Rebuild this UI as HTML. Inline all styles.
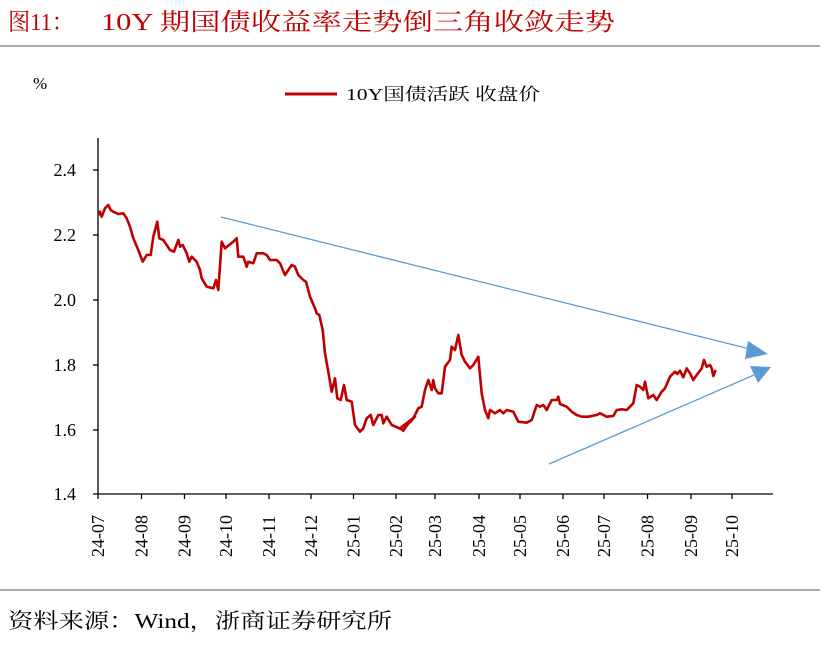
<!DOCTYPE html>
<html><head><meta charset="utf-8"><style>
body{margin:0;width:828px;height:644px;background:#fff;overflow:hidden;font-family:"Liberation Serif","Noto Serif CJK SC",serif}
</style></head><body>
<svg width="828" height="644" xmlns="http://www.w3.org/2000/svg" font-family="Liberation Serif, Noto Serif CJK SC, serif">
<text x="8" y="30" font-size="24" fill="#C00000" textLength="66" lengthAdjust="spacingAndGlyphs">图11：</text>
<text x="101" y="30" font-size="24" fill="#C00000" textLength="514" lengthAdjust="spacingAndGlyphs">10Y 期国债收益率走势倒三角收敛走势</text>
<line x1="0" y1="46" x2="820" y2="46" stroke="#555" stroke-width="1"/>
<text x="33" y="89" font-size="17" fill="#000">%</text>
<line x1="285" y1="94" x2="337" y2="94" stroke="#C00000" stroke-width="3"/>
<text x="346" y="100" font-size="17" fill="#000" textLength="194" lengthAdjust="spacingAndGlyphs">10Y国债活跃 收盘价</text>
<g stroke="#000" stroke-width="1.3" fill="none">
<line x1="98" y1="138" x2="98" y2="494"/>
<line x1="93" y1="494" x2="773" y2="494"/>
<line x1="93" y1="170" x2="98" y2="170"/><line x1="93" y1="235" x2="98" y2="235"/><line x1="93" y1="300" x2="98" y2="300"/><line x1="93" y1="365" x2="98" y2="365"/><line x1="93" y1="430" x2="98" y2="430"/>
<g id="xt"></g>
</g>
<g font-size="18" fill="#000" text-anchor="end">
<text x="76" y="176">2.4</text><text x="76" y="241">2.2</text><text x="76" y="306">2.0</text><text x="76" y="371">1.8</text><text x="76" y="436">1.6</text><text x="76" y="500">1.4</text>
</g>
<g id="xl" font-size="18" fill="#000"></g>
<polyline id="ser" fill="none" stroke="#C00000" stroke-width="2.6" stroke-linejoin="round"/>
<line x1="221" y1="217" x2="750" y2="349" stroke="#5B9BD5" stroke-width="1.3"/>
<polygon points="768,354 748,341 745,359" fill="#5B9BD5"/>
<line x1="549" y1="464" x2="754" y2="375" stroke="#5B9BD5" stroke-width="1.3"/>
<polygon points="771,367 750,366 758,383" fill="#5B9BD5"/>
<line x1="0" y1="590" x2="820" y2="590" stroke="#555" stroke-width="1"/>
<text x="8" y="628" font-size="21" fill="#000" textLength="384" lengthAdjust="spacingAndGlyphs">资料来源：Wind，浙商证券研究所</text>
</svg>
<script>
var ticks=[98,141.5,184.5,226,269,311,353.5,396,435,479,520,563,604,647.5,691,732];
var labs=["24-07","24-08","24-09","24-10","24-11","24-12","25-01","25-02","25-03","25-04","25-05","25-06","25-07","25-08","25-09","25-10"];
var NS="http://www.w3.org/2000/svg",xt=document.getElementById("xt"),xl=document.getElementById("xl");
ticks.forEach(function(x,i){var l=document.createElementNS(NS,"line");l.setAttribute("x1",x);l.setAttribute("x2",x);l.setAttribute("y1",494);l.setAttribute("y2",499);xt.appendChild(l);
var t=document.createElementNS(NS,"text");t.setAttribute("transform","translate("+(x+6)+",557) rotate(-90)");t.textContent=labs[i];xl.appendChild(t);});
var a=[295,225,300,215,305,230,315,205,325,195,332,210,340,215,355,222,370,220,380,235,390,260,400,295,415,330,428,365,440,345,452,345,460,290,472,245,478,295,490,300,510,330,522,335,535,300,540,320,548,315,560,340,568,365,575,350,590,365,600,390,605,415,620,440,640,445,648,420,655,450,665,305,675,325,700,305,710,295,715,350,730,350,740,380,745,365,760,370,770,340,790,340,800,345,810,360,830,360,840,370,855,405,875,375,885,380,895,405,910,420,918,425,930,470,945,505,950,520,958,525,968,570,975,640,985,695,995,755,1005,715,1012,775,1022,780,1032,735,1040,780,1055,785,1065,855,1080,875,1090,865,1100,835,1112,825,1120,855,1135,825,1145,825,1150,850,1160,830,1175,855,1210,870,1230,845,1245,830];
var b=[0,385,10,392,25,370,35,362,45,345,55,325,65,320,75,270,85,240,95,270,100,240,105,265,115,280,125,280,135,200,150,180,155,140,165,150,175,105,185,165,195,185,210,205,220,195,235,170,245,280,255,330,265,355,270,330,285,340,300,330,310,340,320,330,340,335,355,365,380,368,395,360,410,315,420,320,430,315,440,330,455,300,470,300,475,290,480,312,500,320,515,335,530,345,545,350,565,350,590,345,600,340,620,350,640,348,650,330,665,328,680,330,690,320,700,310,710,255,720,260,730,270,735,245,745,295,760,285,770,300,785,275,795,265,810,230,825,215,832,222,840,212,850,232,860,205,870,220,880,240,890,225,905,205,912,180,920,200,930,195,935,205,940,228,947,210];
var p=[];for(var i=0;i<a.length;i+=2)p.push((a[i]/3).toFixed(1)+","+(140+a[i+1]/3).toFixed(1));
for(i=0;i<b.length;i+=2)p.push((400+b[i]/3).toFixed(1)+","+(300+b[i+1]/3).toFixed(1));
document.getElementById("ser").setAttribute("points",p.join(" "));
</script>
</body></html>
